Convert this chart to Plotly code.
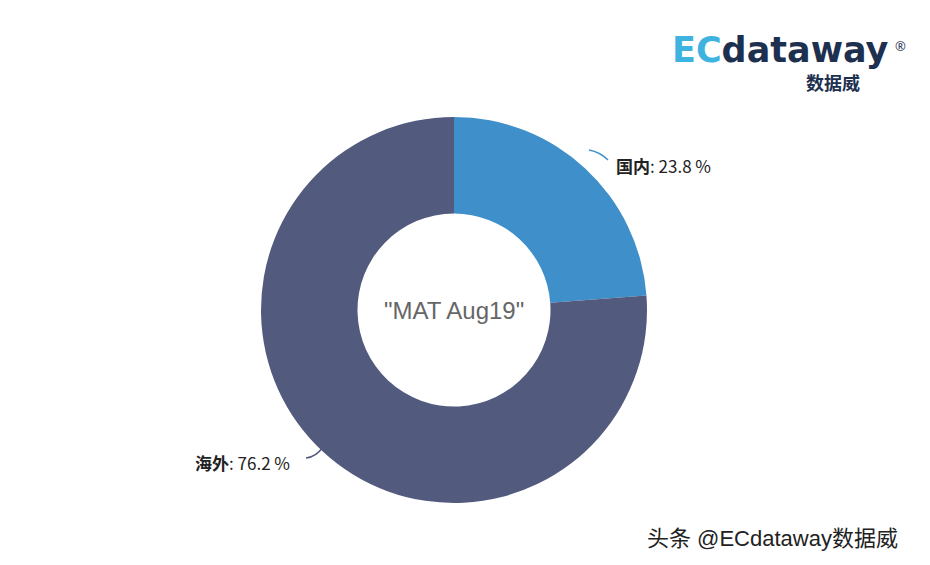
import plotly.graph_objects as go

labels = ["国内", "海外"]
values = [23.8, 76.2]
colors = ["#3f8fca", "#525a7e"]
center_text = '"MAT Aug19"'

W, H = 930, 565
def px(x): return (x - 8) / W
def py(y): return 1 - (y - 8) / H

fig = go.Figure(go.Pie(
    labels=labels, values=values, hole=0.5, sort=False, direction="clockwise",
    rotation=0, marker=dict(colors=colors, line=dict(width=0)), textinfo="none",
    hoverinfo="label+percent", showlegend=False,
    domain=dict(x=[px(454-193), px(454+193)], y=[py(503), py(117)]),
))

ann = [
    dict(x=px(454), y=py(310), text=center_text, showarrow=False,
         font=dict(size=24, color="#666666", family="Liberation Sans")),
    dict(x=px(614), y=py(165), xanchor="left", yanchor="middle", text=f"<b>{labels[0]}</b>: {values[0]} %",
         showarrow=False, font=dict(size=17, color="#222", family="Noto Sans CJK SC")),
    dict(x=px(292), y=py(462), xanchor="right", yanchor="middle", text=f"<b>{labels[1]}</b>: {values[1]} %",
         showarrow=False, font=dict(size=17, color="#222", family="Noto Sans CJK SC")),
    dict(x=px(670), y=py(50), xanchor="left", yanchor="middle",
         text="<b><span style='color:#3fb3e0'>EC</span>dataway</b>",
         showarrow=False, font=dict(size=35, color="#1e3050", family="DejaVu Sans")),
    dict(x=px(908), y=py(35), text="®", showarrow=False, font=dict(size=13, color="#1e3050")),
    dict(x=px(833), y=py(82), xanchor="center", yanchor="middle", text="<b>数据威</b>", showarrow=False,
         font=dict(size=18, color="#1e3050", family="Noto Sans CJK SC")),
    dict(x=px(772), y=py(538), xanchor="center", yanchor="middle", text="头条 @ECdataway数据威", showarrow=False,
         font=dict(size=22, color="#222", family="Liberation Sans, Noto Sans CJK SC")),
]
for a in ann:
    a["xref"] = "paper"; a["yref"] = "paper"

shapes = [
    dict(type="path", path=f"M {px(608)} {py(160)} Q {px(600)} {py(152)} {px(589)} {py(150)}",
         xref="paper", yref="paper", line=dict(color="#3f8fca", width=1.5)),
    dict(type="path", path=f"M {px(306)} {py(458)} Q {px(316)} {py(457)} {px(323)} {py(447)}",
         xref="paper", yref="paper", line=dict(color="#525a7e", width=1.5)),
]

fig.update_layout(width=W, height=H, margin=dict(l=0, r=0, t=0, b=0),
                  paper_bgcolor="white", plot_bgcolor="white",
                  xaxis=dict(visible=False), yaxis=dict(visible=False),
                  annotations=ann, shapes=shapes)
fig.write_html("out.html")
